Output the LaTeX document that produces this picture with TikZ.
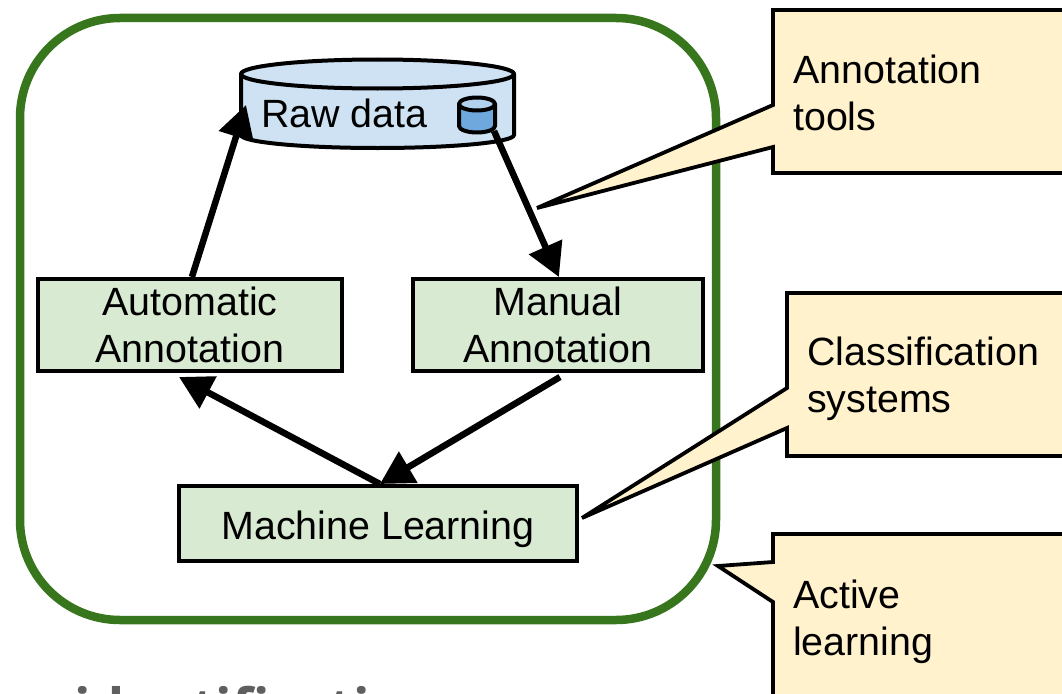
\documentclass[tikz,border=0pt]{standalone}
\usepackage{fontspec}
\setmainfont{Liberation Sans}
\newfontfamily\lowfont{Open Sans}
\usetikzlibrary{arrows.meta}
\definecolor{framegreen}{HTML}{38761D}
\definecolor{boxgreen}{HTML}{D9EAD3}
\definecolor{dbblue}{HTML}{CFE2F3}
\definecolor{dbdark}{HTML}{6FA8DC}
\definecolor{noteyellow}{HTML}{FFF2CC}
\definecolor{lowgray}{HTML}{5F5F5F}
\tikzset{
  x=1pt,y=-1pt,
  label text/.style={font=\fontsize{39.4}{47}\selectfont,align=center,text=black,inner sep=0pt},
  stepbox/.style={draw=black,line width=3.8pt,fill=boxgreen,anchor=north west,label text},
  note/.style={draw=black,line width=3.8pt,fill=noteyellow,line join=miter},
  notetext/.style={font=\fontsize{39.4}{47}\selectfont,align=left,text=black,inner sep=0pt,anchor=north west},
  flow/.style={draw=black,line width=6.5pt,-{Triangle[length=33pt,width=35pt]}},
  db/.style={draw=black,line width=4pt,line join=round},
}
\begin{document}
\begin{tikzpicture}
\useasboundingbox (0,0) rectangle (1062,693);
\clip (0,0) rectangle (1062,693);
% frame
\draw[framegreen,line width=8.5pt,rounded corners=100pt] (20,18) rectangle (716,620);
% callouts
\path[note,draw] (773,10) -- (1070,10) -- (1070,173) -- (773,173) -- (773,147) -- (537,208) -- (773,105) -- cycle;
\node[notetext] (ann) at (793,55) {Annotation\\tools};
\path[note,draw] (787,293) -- (1070,293) -- (1070,456) -- (787,456) -- (787,428) -- (582,518) -- (787,388) -- cycle;
\node[notetext] (cls) at (807,337) {Classification\\systems};
\path[note,draw] (773,534) -- (1070,534) -- (1070,700) -- (773,700) -- (773,602) -- (718,566) -- (773,562) -- cycle;
\node[notetext] (act) at (793,580) {Active\\learning};
% database
\draw[db,fill=dbblue] (241,74) -- (241,135) arc[start angle=180,end angle=360,x radius=136.5pt,y radius=13pt] -- (514,74) -- cycle;
\draw[db,fill=dbblue] (377.5,74) ellipse[x radius=136.5pt,y radius=14.5pt];
\node[label text,anchor=west] (raw) at (261,113) {Raw data};
\draw[db,fill=dbdark] (459,104) -- (459,126) arc[start angle=180,end angle=360,x radius=18pt,y radius=6.5pt] -- (495,104) -- cycle;
\draw[db,fill=dbblue!70!dbdark] (477,104) ellipse[x radius=18pt,y radius=6.5pt];
\coordinate (rawin) at (246,105);
\coordinate (rawout) at (494,131);
% steps
\node[stepbox,minimum width=304pt,minimum height=92pt] (auto) at (36,277) {Automatic\\Annotation};
\node[stepbox,minimum width=290pt,minimum height=92pt] (manual) at (411,277) {Manual\\Annotation};
\node[stepbox,minimum width=398pt,minimum height=75pt] (ml) at (177,484) {\raisebox{-16.5pt}[0pt][0pt]{Machine Learning}};
\coordinate (autoin) at (179,377);
\coordinate (manualout) at (560,377);
% arrows
\draw[flow] ([xshift=2pt]auto.north) -- (rawin);
\draw[flow] (rawout) -- ([xshift=1pt]manual.north);
\draw[flow] (manualout) -- ([xshift=2pt]ml.north);
\draw[flow] ([xshift=2pt]ml.north) -- (autoin);
% cropped text
\node[font=\lowfont\bfseries\fontsize{54}{54}\selectfont,text=lowgray,anchor=base west,inner sep=0pt] (low) at (74,727) {identification};
\end{tikzpicture}
\end{document}
